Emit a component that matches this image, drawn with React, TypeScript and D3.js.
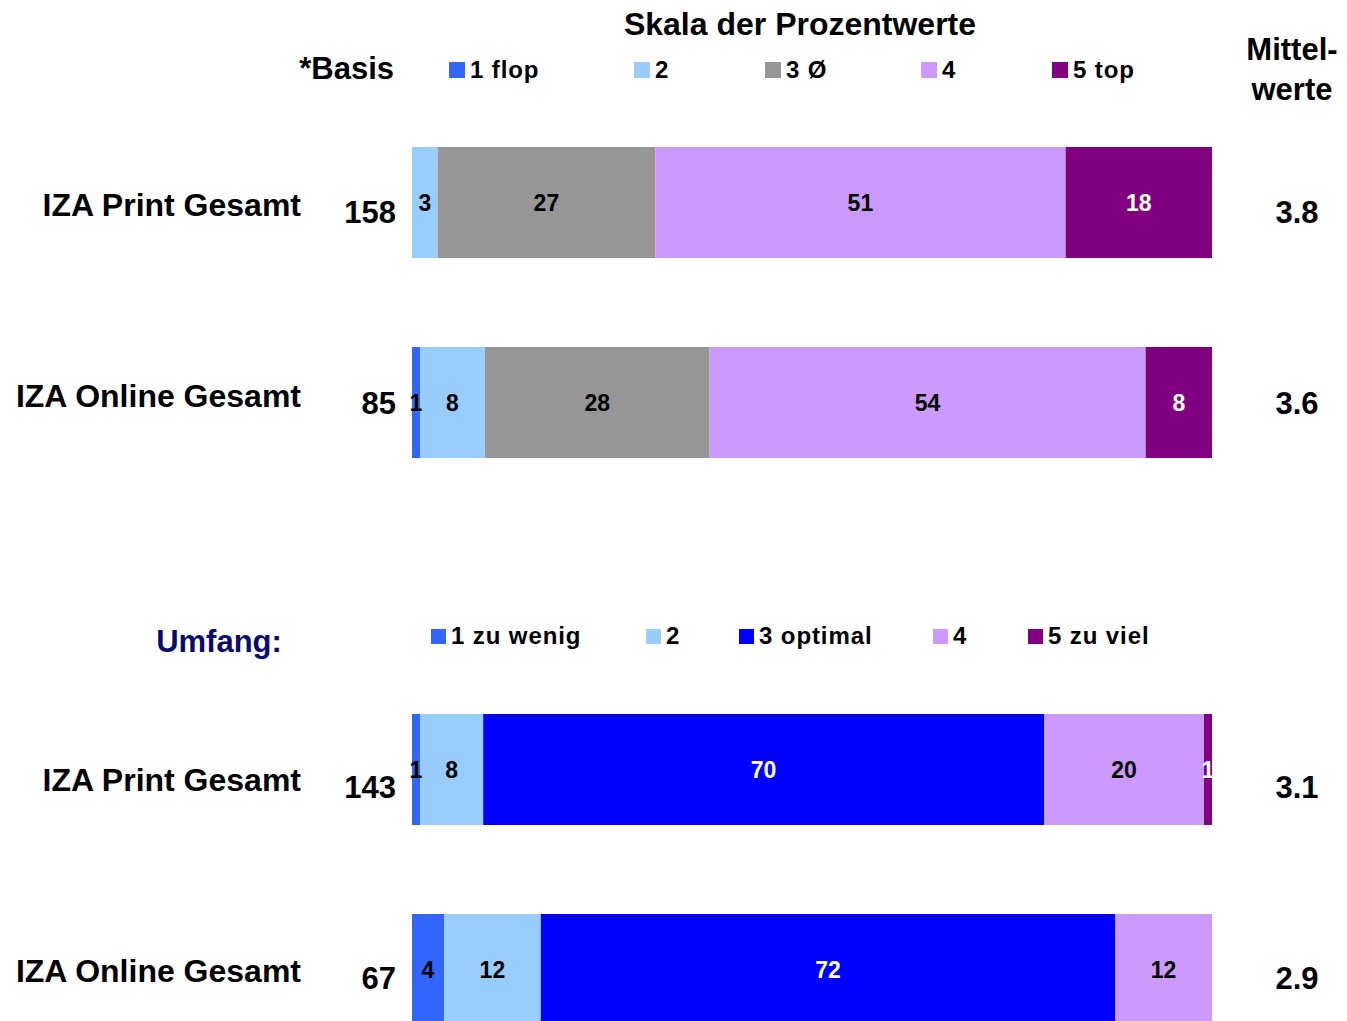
import React from "react";
import * as d3 from "d3";

const W = 1347;
const H = 1021;

// Section 1: Skala der Prozentwerte
const rows1 = ["IZA Print Gesamt", "IZA Online Gesamt"];
const basis1 = ["158", "85"];
const means1 = ["3.8", "3.6"];
const keys1 = ["1 flop", "2", "3 Ø", "4", "5 top"];
const colors1 = ["#3366FF", "#99CCFF", "#969696", "#CC99FF", "#800080"];
const textColors1 = ["#000", "#000", "#000", "#000", "#fff"];
const values1 = [
  [0, 3.2, 27.2, 51.3, 18.3],
  [1.0, 8.1, 28.1, 54.5, 8.3],
];
const labels1 = [
  ["", "3", "27", "51", "18"],
  ["1", "8", "28", "54", "8"],
];

// Section 2: Umfang
const rows2 = ["IZA Print Gesamt", "IZA Online Gesamt"];
const basis2 = ["143", "67"];
const means2 = ["3.1", "2.9"];
const keys2 = ["1 zu wenig", "2", "3 optimal", "4", "5 zu viel"];
const colors2 = ["#3366FF", "#99CCFF", "#0000FF", "#CC99FF", "#800080"];
const textColors2 = ["#000", "#000", "#fff", "#000", "#fff"];
const values2 = [
  [1.0, 7.9, 70.1, 20.0, 1.0],
  [4.0, 12.1, 71.8, 12.1, 0],
];
const labels2 = [
  ["1", "8", "70", "20", "1"],
  ["4", "12", "72", "12", ""],
];

const FONT = "'Liberation Sans', Arial, Helvetica, sans-serif";

const x = d3.scaleLinear().domain([0, 100]).range([412, 1212]);

type SectionProps = {
  rows: string[];
  basis: string[];
  means: string[];
  colors: string[];
  textColors: string[];
  values: number[][];
  labels: string[][];
  barTop: number;
  textTop: number;
};

function Section(p: SectionProps) {
  const yBar = d3.scaleLinear().domain([0, 1]).range([p.barTop, p.barTop + 200]);
  const yText = d3.scaleLinear().domain([0, 1]).range([p.textTop, p.textTop + 191]);
  const barH = 111;
  return (
    <g>
      {p.rows.map((r, i) => {
        const stack = d3.cumsum(p.values[i]);
        const tc = yText(i);
        return (
          <g key={i}>
            <text x={301} y={tc + 4} textAnchor="end" fontSize={32} fontWeight="bold" fill="#000">
              {r}
            </text>
            <text x={396} y={tc + 11} textAnchor="end" fontSize={31} fontWeight="bold" fill="#000">
              {p.basis[i]}
            </text>
            <text x={1297} y={tc + 11} textAnchor="middle" fontSize={31} fontWeight="bold" fill="#000">
              {p.means[i]}
            </text>
            {p.values[i].map((v, j) => {
              const x0 = x(stack[j] - v);
              const x1 = x(stack[j]);
              if (v <= 0) return null;
              return (
                <rect key={"r" + j} x={x0} y={yBar(i)} width={x1 - x0} height={barH} fill={p.colors[j]} />
              );
            })}
            {p.values[i].map((v, j) => {
              if (v <= 0 || !p.labels[i][j]) return null;
              const cx = x(stack[j] - v / 2);
              return (
                <text
                  key={"t" + j}
                  x={cx}
                  y={yBar(i) + barH / 2 + 8}
                  textAnchor="middle"
                  fontSize={23}
                  fontWeight="bold"
                  fill={p.textColors[j]}
                >
                  {p.labels[i][j]}
                </text>
              );
            })}
          </g>
        );
      })}
    </g>
  );
}

function Legend({ keys, colors, xs, y, size }: { keys: string[]; colors: string[]; xs: number[]; y: number; size: number }) {
  return (
    <g>
      {keys.map((k, i) => (
        <g key={k}>
          <rect x={xs[i]} y={y} width={size} height={size} fill={colors[i]} />
          <text
            x={xs[i] + size + 5}
            y={y + size}
            fontSize={24}
            fontWeight="bold"
            letterSpacing={0.9}
            fill="#000"
          >
            {k}
          </text>
        </g>
      ))}
    </g>
  );
}

export default function App() {
  return (
    <svg
      width={W}
      height={H}
      style={{ position: "absolute", left: 0, top: 0, background: "#fff" }}
      fontFamily={FONT}
    >
      <rect x={0} y={0} width={W} height={H} fill="#fff" />
      <text x={800} y={35} textAnchor="middle" fontSize={32} fontWeight="bold" fill="#000">
        Skala der Prozentwerte
      </text>
      <text x={394} y={79} textAnchor="end" fontSize={31} fontWeight="bold" fill="#000">
        *Basis
      </text>
      <text x={1292} y={60} textAnchor="middle" fontSize={31} fontWeight="bold" fill="#000">
        Mittel-
      </text>
      <text x={1292} y={100} textAnchor="middle" fontSize={31} fontWeight="bold" fill="#000">
        werte
      </text>
      <Legend keys={keys1} colors={colors1} xs={[449, 634, 765, 921, 1052]} y={62} size={16} />
      <Section
        rows={rows1}
        basis={basis1}
        means={means1}
        colors={colors1}
        textColors={textColors1}
        values={values1}
        labels={labels1}
        barTop={147}
        textTop={212}
      />
      <text x={219} y={652} textAnchor="middle" fontSize={31} fontWeight="bold" fill="#0A0A6E">
        Umfang:
      </text>
      <Legend keys={keys2} colors={colors2} xs={[431, 646, 739, 933, 1028]} y={629} size={15} />
      <Section
        rows={rows2}
        basis={basis2}
        means={means2}
        colors={colors2}
        textColors={textColors2}
        values={values2}
        labels={labels2}
        barTop={714}
        textTop={787}
      />
    </svg>
  );
}
